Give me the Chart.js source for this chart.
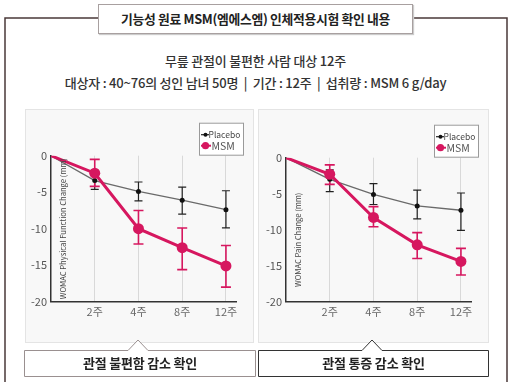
<!DOCTYPE html>
<html>
<head>
<meta charset="utf-8">
<script src="https://cdn.jsdelivr.net/npm/chart.js@4.4.1/dist/chart.umd.min.js"></script>
<style>
  html, body { margin:0; padding:0; background:#fff; }
  body { width:511px; height:382px; position:relative; overflow:hidden; font-family:"Noto Sans CJK KR","Noto Sans",sans-serif; color:#222; }
  .abs { position:absolute; }
  .panel { position:absolute; background:#f8f8f8; border:1px solid #e4e4e4; box-sizing:border-box; }
  .title { position:absolute; left:98px; top:4px; width:315px; height:30px; background:#fff; border:1px solid #a8a0a0; box-sizing:border-box; box-shadow:1px 1px 1px #ccc; text-align:center; line-height:28px; font-weight:700; font-size:12.8px; letter-spacing:-0.3px; }
  .sub { position:absolute; left:0; width:511px; text-align:center; font-size:13px; line-height:20px; font-weight:500; color:#333; letter-spacing:-0.2px; }
  .lbl { position:absolute; text-align:center; font-weight:700; font-size:13px; line-height:20px; color:#222; letter-spacing:-0.2px; }
  canvas { position:absolute; }
</style>
</head>
<body>
<svg class="abs" style="left:0;top:0" width="511" height="382">
  <polyline points="5,382 5,18 98,18" fill="none" stroke="#4a3838" stroke-width="1.5"/>
  <polyline points="413,18 507,18 507,382" fill="none" stroke="#4a3838" stroke-width="1.5"/>
</svg>
<div class="title">기능성 원료 MSM(엠에스엠) 인체적용시험 확인 내용</div>
<div class="sub" style="top:51px;">무릎 관절이 불편한 사람 대상 12주</div>
<div class="sub" style="top:73px;">대상자 : 40~76의 성인 남녀 50명 &nbsp;| &nbsp;기간 : 12주 &nbsp;| &nbsp;섭취량 : MSM 6 g/day</div>

<div class="panel" style="left:25px;top:109px;width:229px;height:234px;"></div>
<div class="panel" style="left:258px;top:109px;width:231px;height:234px;"></div>

<canvas id="c1" width="229" height="234" style="left:25px;top:109px;"></canvas>
<canvas id="c2" width="231" height="234" style="left:258px;top:109px;"></canvas>

<svg class="abs" style="left:0;top:0" width="511" height="382">
  <path d="M24.5,350.5 L128,350.5 L138,340 L148,350.5 L255.5,350.5 L255.5,376.5 L24.5,376.5 Z" fill="#fff" stroke="#9a9090" stroke-width="1"/>
  <path d="M258.5,350.5 L362,350.5 L372,340 L382,350.5 L488.5,350.5 L488.5,376.5 L258.5,376.5 Z" fill="#fff" stroke="#333" stroke-width="1"/>
</svg>
<div class="lbl" style="left:24px;width:232px;top:353px;">관절 불편함 감소 확인</div>
<div class="lbl" style="left:258px;width:231px;top:353px;">관절 통증 감소 확인</div>

<script>
// ---- data ----
const weeks = ['', '2주', '4주', '8주', '12주'];
const yTicks = [0, -5, -10, -15, -20];
const seriesNames = ['Placebo', 'MSM'];

const physPlacebo   = [0, -3.4, -4.9, -6.1, -7.4];
const physPlaceboHi = [null, -2.2, -3.6, -4.3, -4.8];
const physPlaceboLo = [null, -4.6, -6.2, -8.0, -9.9];
const physMSM       = [0, -2.4, -10.0, -12.6, -15.1];
const physMSMHi     = [null, -0.5, -7.5, -9.9, -12.3];
const physMSMLo     = [null, -4.2, -12.1, -15.6, -18.0];

const painPlacebo   = [0, -3.0, -5.1, -6.7, -7.3];
const painPlaceboHi = [null, -1.7, -3.6, -4.5, -4.9];
const painPlaceboLo = [null, -4.7, -6.5, -8.5, -10.1];
const painMSM       = [0, -2.3, -8.3, -12.1, -14.4];
const painMSMHi     = [null, -1.0, -6.8, -10.4, -12.6];
const painMSMLo     = [null, -3.7, -9.6, -14.0, -16.3];

const PINK = '#d6175f';
const FONT = '"Noto Sans CJK KR","Noto Sans",sans-serif';

function makeChart(id, yTitle, titleCenterFrac, pl, plHi, plLo, ms, msHi, msLo, area) {
  const canvas = document.getElementById(id);
  const H = canvas.height;
  const decor = {
    id: 'decor',
    beforeDatasetsDraw(chart) {
      const ctx = chart.ctx, xs = chart.scales.x, ys = chart.scales.y;
      const bars = [
        {hi: plHi, lo: plLo, color: '#222', w: 1.2, cap: 4},
        {hi: msHi, lo: msLo, color: PINK, w: 1.6, cap: 5}
      ];
      ctx.save();
      bars.forEach(b => {
        ctx.strokeStyle = b.color; ctx.lineWidth = b.w;
        b.hi.forEach((h, i) => {
          if (h === null) return;
          const x = xs.getPixelForValue(i);
          const y1 = ys.getPixelForValue(h), y2 = ys.getPixelForValue(b.lo[i]);
          ctx.beginPath();
          ctx.moveTo(x, y1); ctx.lineTo(x, y2);
          ctx.moveTo(x - b.cap, y1); ctx.lineTo(x + b.cap, y1);
          ctx.moveTo(x - b.cap, y2); ctx.lineTo(x + b.cap, y2);
          ctx.stroke();
        });
      });
      ctx.restore();
    },
    afterDraw(chart) {
      const ctx = chart.ctx, ca = chart.chartArea;
      ctx.save();
      ctx.translate(ca.left + 12, ca.top + (ca.bottom - ca.top) * titleCenterFrac);
      ctx.rotate(-Math.PI / 2);
      ctx.font = '7.6px ' + FONT;
      ctx.fillStyle = '#444';
      ctx.textAlign = 'center'; ctx.textBaseline = 'middle';
      ctx.fillText(yTitle, 0, 0);
      ctx.restore();
      // legend
      const bx = ca.left + 148, by = ca.top - 33, bw = 44, bh = 32;
      ctx.save();
      ctx.fillStyle = '#fff'; ctx.fillRect(bx, by, bw, bh);
      ctx.strokeStyle = '#9a9a9a'; ctx.lineWidth = 1;
      ctx.strokeRect(bx + 0.5, by + 0.5, bw, bh);
      let y = by + 12;
      ctx.strokeStyle = '#222'; ctx.lineWidth = 1.2;
      ctx.beginPath(); ctx.moveTo(bx + 2, y); ctx.lineTo(bx + 10, y); ctx.stroke();
      ctx.fillStyle = '#111'; ctx.beginPath(); ctx.arc(bx + 6.5, y, 2, 0, Math.PI * 2); ctx.fill();
      ctx.fillStyle = '#444'; ctx.font = '8.5px ' + FONT; ctx.textBaseline = 'middle';
      ctx.fillText(seriesNames[0], bx + 9.5, y);
      y = by + 23;
      ctx.strokeStyle = PINK; ctx.lineWidth = 2;
      ctx.beginPath(); ctx.moveTo(bx + 2, y); ctx.lineTo(bx + 12, y); ctx.stroke();
      ctx.fillStyle = PINK; ctx.beginPath(); ctx.arc(bx + 6.5, y, 3.6, 0, Math.PI * 2); ctx.fill();
      ctx.fillStyle = '#555'; ctx.font = '10.5px ' + FONT;
      ctx.fillText(seriesNames[1], bx + 12.5, y);
      ctx.restore();
    }
  };
  return new Chart(canvas, {
    type: 'line',
    data: {
      datasets: [
        { label: seriesNames[1], data: ms.map((v, i) => ({x: i, y: v})), borderColor: PINK, borderWidth: 3,
          pointRadius: ms.map((v, i) => i === 0 ? 0 : 5.5), pointBackgroundColor: PINK, pointBorderWidth: 0,
          tension: 0, order: 0 },
        { label: seriesNames[0], data: pl.map((v, i) => ({x: i, y: v})), borderColor: '#6a6a6a', borderWidth: 1.3,
          pointRadius: pl.map((v, i) => i === 0 ? 0 : 2.5), pointBackgroundColor: '#111', pointBorderWidth: 0,
          tension: 0, order: 1 }
      ]
    },
    options: {
      responsive: false, animation: false, devicePixelRatio: 1,
      layout: { padding: { left: 0, top: area.top, right: area.right, bottom: 0 } },
      plugins: { legend: { display: false }, tooltip: { enabled: false } },
      scales: {
        x: {
          type: 'linear', min: 0, max: 4.23,
          afterBuildTicks: s => { s.ticks = weeks.map((w, i) => ({value: i})); },
          afterFit: s => { s.height = H - area.top - area.plotH; },
          ticks: { autoSkip: false, maxRotation: 0, padding: 4, color: '#666',
                   font: { family: FONT, size: 11 }, callback: v => weeks[v] ?? '' },
          grid: { drawTicks: false, color: c => (c.tick && c.tick.value === 0) ? 'rgba(0,0,0,0)' : '#d9d9d9', lineWidth: 1 },
          border: { display: true, color: '#333', width: 1.5 }
        },
        y: {
          min: -20, max: 0,
          afterBuildTicks: s => { s.ticks = yTicks.map(v => ({value: v})); },
          afterFit: s => { s.width = area.left; },
          ticks: { padding: 4, color: '#555', font: { family: FONT, size: 11 } },
          grid: { display: false, drawTicks: false },
          border: { display: true, color: '#333', width: 1.5 }
        }
      }
    },
    plugins: [decor]
  });
}

makeChart('c1', 'WOMAC Physical Function Change (mm)', 0.5,
  physPlacebo, physPlaceboHi, physPlaceboLo, physMSM, physMSMHi, physMSMLo,
  { left: 26, top: 46.7, right: 18, plotH: 146 });
makeChart('c2', 'WOMAC Pain Change (mm)', 0.57,
  painPlacebo, painPlaceboHi, painPlaceboLo, painMSM, painMSMHi, painMSMLo,
  { left: 28, top: 48.7, right: 18, plotH: 144 });
</script>
</body>
</html>
